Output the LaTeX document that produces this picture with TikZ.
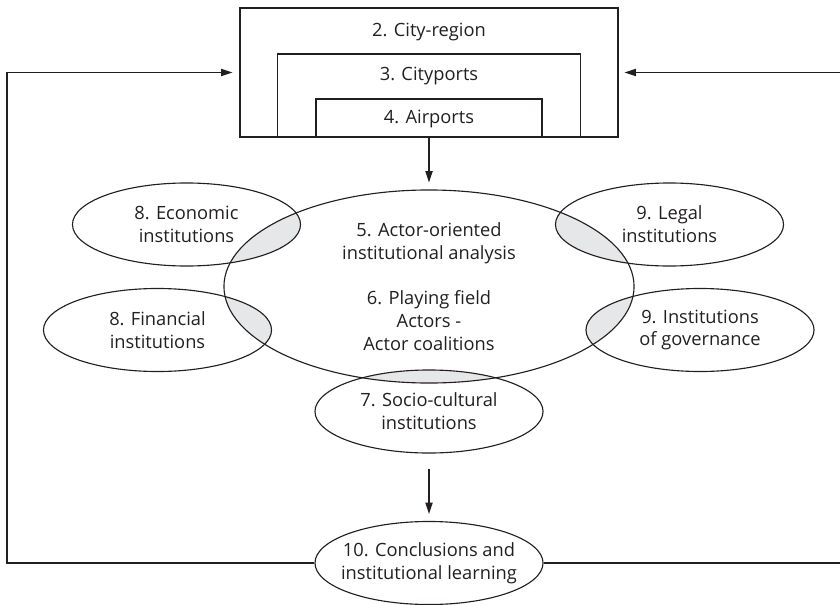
\documentclass[tikz,border=0pt]{standalone}
\usepackage{fontspec}
\setmainfont{Open Sans}
\usepackage{tikz}
\usetikzlibrary{shapes.geometric, arrows.meta, positioning, calc, backgrounds}
\definecolor{ink}{RGB}{35,31,32}
\definecolor{overlap}{RGB}{230,231,232}

\begin{document}
\begin{tikzpicture}[x=0.025cm, y=-0.025cm, line width=0.8pt, color=ink,
  font=\fontsize{13}{16.3}\selectfont,
  box/.style={draw, rectangle, inner sep=0pt},
  inst/.style={draw, ellipse, minimum width=5.7cm, minimum height=2.075cm, inner sep=0pt, align=center},
  arr/.style={-{Triangle[length=2.8mm, width=1.8mm]}}]
\useasboundingbox (0,0) rectangle (840,604);

  % Nested frames
  \node[box, minimum width=9.45cm, minimum height=3.225cm] (region) at (429,72.5) {};
  \node[box, minimum width=7.575cm, minimum height=2.075cm, anchor=south] (cityports) at (region.south) {};
  \node[box, minimum width=5.65cm, minimum height=0.95cm, anchor=south] (airports) at (region.south) {};
  \node (regiontxt) at (429,32) {2. City-region};
  \node (cityportstxt) at (429,75.5) {3. Cityports};
  \node (airportstxt) at (429,119) {4. Airports};

  % Institutions
  \node[inst, minimum width=10.25cm, minimum height=4.825cm] (actor) at (429,286.5)
    {5. Actor-oriented\\ institutional analysis\\[16pt] 6. Playing field\\ Actors -\\ Actor coalitions};
  \node[inst] (econ)  at (186.5,224.5) {8. Economic\\ institutions};
  \node[inst] (legal) at (669.5,224.5) {9. Legal\\ institutions};
  \node[inst] (fin)   at (157.5,330)   {8. Financial\\ institutions};
  \node[inst] (gov)   at (700,330)     {9. Institutions\\ of governance};
  \node[inst] (socio) at (429,411.5)   {7. Socio-cultural\\ institutions};
  \node[inst, inner xsep=-0.32cm] (concl) at (429,563) {10. Conclusions and\\ institutional learning};

  % Overlaps with the central field
  \begin{scope}[on background layer]
    \clip (actor.center) ellipse [x radius=205, y radius=96.5];
    \foreach \n in {econ, legal, fin, gov, socio}
      \fill[overlap] (\n.center) ellipse [x radius=114, y radius=41.5];
  \end{scope}

  % Flow
  \draw[arr, shorten >=0.175cm] (region.south) -- (actor.north);
  \draw[arr, shorten <=0.375cm, shorten >=0.175cm] (socio.south) -- (concl.north);

  % Feedback loops
  \coordinate (lturn) at (7,73);
  \coordinate (rturn) at (844,73);
  \draw[arr, shorten >=0.175cm] (concl.west) -| (lturn) |- (region.west);
  \draw[arr, shorten >=0.15cm] (concl.east) -| (rturn) |- (region.east);
\end{tikzpicture}
\end{document}
